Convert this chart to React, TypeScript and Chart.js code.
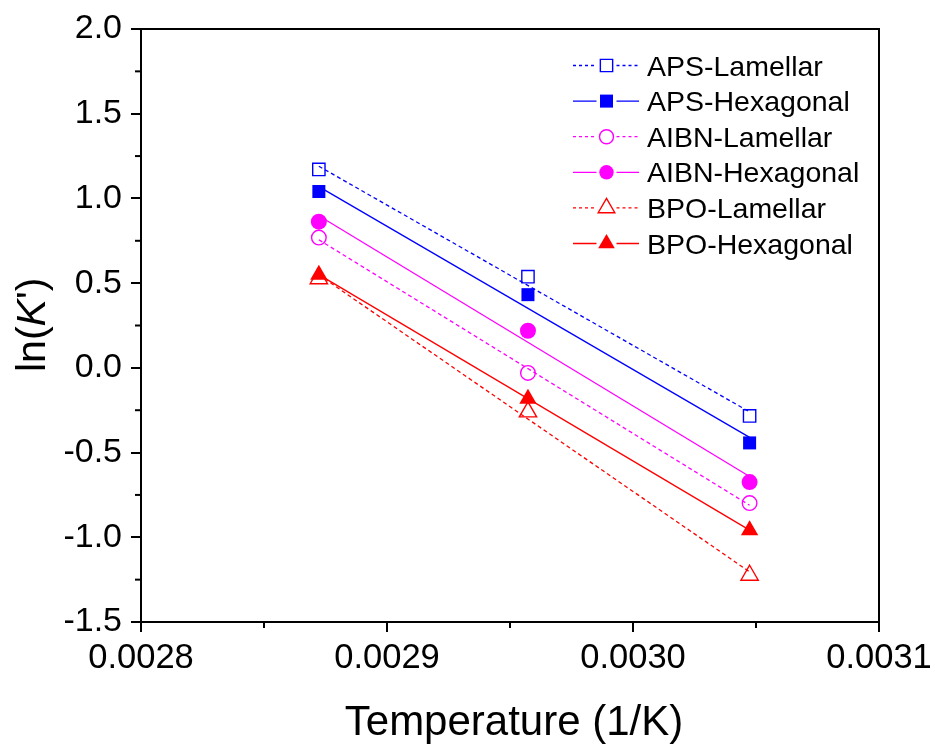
import React, { useEffect, useRef } from 'react';
import { Chart, registerables } from 'chart.js';
Chart.register(...registerables);

// 1/T values (1/K)
const invT = [0.0028723, 0.0029573, 0.0030474];

// measured ln(K')
const apsLamellar = [1.171, 0.538, -0.284];
const apsHexagonal = [1.041, 0.432, -0.443];
const aibnLamellar = [0.769, -0.03, -0.798];
const aibnHexagonal = [0.863, 0.219, -0.674];
const bpoLamellar = [0.526, -0.26, -1.224];
const bpoHexagonal = [0.55, -0.183, -0.958];

// linear-fit line endpoints
const fitX = [0.0028723, 0.0030474];
const apsLamellarFit = [1.19, -0.26];
const apsHexagonalFit = [1.07, -0.41];
const aibnLamellarFit = [0.756, -0.811];
const aibnHexagonalFit = [0.898, -0.641];
const bpoLamellarFit = [0.549, -1.204];
const bpoHexagonalFit = [0.55, -0.958];

const seriesLabels = ['APS-Lamellar', 'APS-Hexagonal', 'AIBN-Lamellar', 'AIBN-Hexagonal', 'BPO-Lamellar', 'BPO-Hexagonal'];
const xTicks = [0.0028, 0.0029, 0.003, 0.0031];
const yTicks = [-1.5, -1.0, -0.5, 0.0, 0.5, 1.0, 1.5, 2.0];

const FONT = '"Liberation Sans", Arial, sans-serif';

type Spec = { label: string; pts: number[]; fit: number[]; color: string; style: string; filled: boolean; dashed: boolean; r: number; lr: number };

const specs: Spec[] = [
  { label: seriesLabels[0], pts: apsLamellar, fit: apsLamellarFit, color: '#0000ff', style: 'rect', filled: false, dashed: true, r: 8.7, lr: 8.7 },
  { label: seriesLabels[1], pts: apsHexagonal, fit: apsHexagonalFit, color: '#0000ff', style: 'rect', filled: true, dashed: false, r: 9.2, lr: 9.2 },
  { label: seriesLabels[2], pts: aibnLamellar, fit: aibnLamellarFit, color: '#ff00ff', style: 'circle', filled: false, dashed: true, r: 7.3, lr: 7 },
  { label: seriesLabels[3], pts: aibnHexagonal, fit: aibnHexagonalFit, color: '#ff00ff', style: 'circle', filled: true, dashed: false, r: 8, lr: 7.2 },
  { label: seriesLabels[4], pts: bpoLamellar, fit: bpoLamellarFit, color: '#ff0000', style: 'triangle', filled: false, dashed: true, r: 10, lr: 9.6 },
  { label: seriesLabels[5], pts: bpoHexagonal, fit: bpoHexagonalFit, color: '#ff0000', style: 'triangle', filled: true, dashed: false, r: 10, lr: 9.6 },
];

function drawMarker(ctx: CanvasRenderingContext2D, style: string, x: number, y: number, r: number, color: string, filled: boolean) {
  ctx.save();
  ctx.beginPath();
  if (style === 'rect') {
    const s = r * Math.SQRT1_2;
    ctx.rect(x - s, y - s, 2 * s, 2 * s);
  } else if (style === 'circle') {
    ctx.arc(x, y, r, 0, Math.PI * 2);
  } else {
    ctx.moveTo(x, y - r);
    ctx.lineTo(x + r * 0.866, y + r / 2);
    ctx.lineTo(x - r * 0.866, y + r / 2);
    ctx.closePath();
  }
  if (filled) {
    ctx.fillStyle = color;
    ctx.fill();
  } else {
    ctx.fillStyle = '#ffffff';
    ctx.fill();
    ctx.strokeStyle = color;
    ctx.lineWidth = 1.4;
    ctx.stroke();
  }
  ctx.restore();
}

const decorPlugin = {
  id: 'decor',
  afterDraw(chart: any) {
    const ctx: CanvasRenderingContext2D = chart.ctx;
    const { left, right, top, bottom } = chart.chartArea;
    const xs = chart.scales.x;
    const ys = chart.scales.y;
    ctx.save();
    // frame top & right
    ctx.strokeStyle = '#000';
    ctx.lineWidth = 2;
    ctx.beginPath();
    ctx.moveTo(left, top);
    ctx.lineTo(right, top);
    ctx.lineTo(right, bottom);
    ctx.stroke();
    // minor ticks
    ctx.lineWidth = 2;
    for (let i = 0; i < xTicks.length - 1; i++) {
      const v = (xTicks[i] + xTicks[i + 1]) / 2;
      const px = xs.getPixelForValue(v);
      ctx.beginPath();
      ctx.moveTo(px, bottom);
      ctx.lineTo(px, bottom + 6);
      ctx.stroke();
    }
    for (let i = 0; i < yTicks.length - 1; i++) {
      const v = (yTicks[i] + yTicks[i + 1]) / 2;
      const py = ys.getPixelForValue(v);
      ctx.beginPath();
      ctx.moveTo(left, py);
      ctx.lineTo(left - 6, py);
      ctx.stroke();
    }
    // axis titles
    ctx.fillStyle = '#000';
    ctx.font = `42px ${FONT}`;
    ctx.textAlign = 'center';
    ctx.textBaseline = 'alphabetic';
    ctx.fillText('Temperature (1/K)', 514, 735);

    ctx.save();
    ctx.translate(45, 372);
    ctx.rotate(-Math.PI / 2);
    ctx.textAlign = 'left';
    const yfont = 41;
    ctx.font = `${yfont}px ${FONT}`;
    let cx = 0;
    ctx.fillText('ln(', cx, 0);
    cx += ctx.measureText('ln(').width;
    ctx.font = `italic ${yfont}px ${FONT}`;
    ctx.fillText('K', cx, 0);
    cx += ctx.measureText('K').width;
    ctx.font = `${yfont}px ${FONT}`;
    ctx.fillText("')", cx, 0);
    ctx.restore();

    // legend
    const lx0 = 573, lx1 = 639, mx = 606.5, tx = 647;
    specs.forEach((s, i) => {
      const cy = 65.5 + i * 35.6;
      ctx.save();
      ctx.strokeStyle = s.color;
      ctx.lineWidth = 1.3;
      ctx.setLineDash(s.dashed ? [3, 3] : []);
      ctx.beginPath();
      ctx.moveTo(lx0, cy);
      ctx.lineTo(mx - 10, cy);
      ctx.moveTo(mx + 10, cy);
      ctx.lineTo(lx1, cy);
      ctx.stroke();
      ctx.restore();
      drawMarker(ctx, s.style, mx, cy, s.lr, s.color, s.filled);
      ctx.fillStyle = '#000';
      ctx.font = `28.5px ${FONT}`;
      ctx.textAlign = 'left';
      ctx.textBaseline = 'alphabetic';
      ctx.fillText(s.label, tx, cy + 10);
    });
    ctx.restore();
  },
};

export default function App() {
  const ref = useRef<HTMLCanvasElement | null>(null);
  useEffect(() => {
    document.body.style.margin = '0';
    const canvas = ref.current!;
    const pointSets = specs.map((s) => ({
      type: 'scatter' as const,
      label: s.label,
      data: invT.map((x, i) => ({ x, y: s.pts[i] })),
      showLine: false,
      pointStyle: s.style,
      pointRadius: s.r,
      pointHoverRadius: s.r,
      pointBackgroundColor: s.filled ? s.color : 'rgba(0,0,0,0)',
      pointBorderColor: s.color,
      pointBorderWidth: s.filled ? 0 : 1.4,
      borderColor: s.color,
      order: 0,
    }));
    const lineSets = specs.map((s) => ({
      type: 'line' as const,
      label: s.label + ' fit',
      data: fitX.map((x, i) => ({ x, y: s.fit[i] })),
      showLine: true,
      pointRadius: 0,
      borderColor: s.color,
      borderWidth: 1.3,
      borderDash: s.dashed ? [4, 3] : [],
      fill: false,
      tension: 0,
      order: 1,
    }));
    const chart = new Chart(canvas, {
      type: 'scatter',
      data: { datasets: [...pointSets, ...lineSets] as any },
      options: {
        animation: false,
        responsive: false,
        devicePixelRatio: 1,
        layout: { padding: { top: 29, right: 56, bottom: 0, left: 0 } },
        plugins: { legend: { display: false }, tooltip: { enabled: false }, title: { display: false } },
        scales: {
          x: {
            type: 'linear',
            min: 0.0028,
            max: 0.0031,
            afterFit: (s: any) => { s.height = 123; s.paddingLeft = 0; s.paddingRight = 0; },
            afterBuildTicks: (s: any) => { s.ticks = xTicks.map((v) => ({ value: v })); },
            ticks: {
              callback: (v: any) => Number(v).toFixed(4),
              font: { family: FONT, size: 34.5 },
              color: '#000',
              padding: 6,
              maxRotation: 0,
              autoSkip: false,
            },
            grid: { drawOnChartArea: false, drawTicks: true, tickLength: 10, color: '#000', lineWidth: 2 },
            border: { display: true, color: '#000', width: 2 },
          },
          y: {
            type: 'linear',
            min: -1.5,
            max: 2,
            afterFit: (s: any) => { s.width = 141; s.paddingTop = 0; s.paddingBottom = 0; },
            afterBuildTicks: (s: any) => { s.ticks = yTicks.map((v) => ({ value: v })); },
            ticks: {
              callback: (v: any) => Number(v).toFixed(1),
              font: { family: FONT, size: 34 },
              color: '#000',
              padding: 9,
              autoSkip: false,
            },
            grid: { drawOnChartArea: false, drawTicks: true, tickLength: 10, color: '#000', lineWidth: 2 },
            border: { display: true, color: '#000', width: 2 },
          },
        },
      },
      plugins: [decorPlugin],
    });
    return () => chart.destroy();
  }, []);
  return (
    <div style={{ position: 'absolute', left: 0, top: 0, width: 935, height: 745, background: '#fff' }}>
      <canvas ref={ref} width={935} height={745} style={{ width: 935, height: 745, display: 'block' }} />
    </div>
  );
}
